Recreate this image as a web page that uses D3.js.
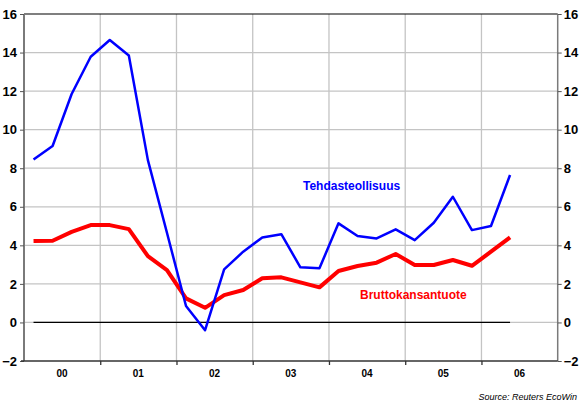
<!DOCTYPE html>
<html>
<head>
<meta charset="utf-8">
<script src="https://cdn.jsdelivr.net/npm/d3@7"></script>
<style>
  html, body { margin: 0; padding: 0; background: #fff; }
  svg { display: block; font-family: "Liberation Sans", Arial, sans-serif; }
</style>
</head>
<body>
<svg id="chart" width="579" height="405"></svg>
<script>
// ---- data ----
const yearLabels = ["00", "01", "02", "03", "04", "05", "06"];
const yTicks = [-2, 0, 2, 4, 6, 8, 10, 12, 14, 16];
// quarterly, 2000Q1 .. 2006Q2
const tehdasteollisuus = [8.45, 9.15, 11.85, 13.78, 14.65, 13.85, 8.42, 4.65, 0.85, -0.4,
  2.75, 3.67, 4.41, 4.58, 2.86, 2.81, 5.14, 4.48, 4.36, 4.83, 4.27, 5.17, 6.52, 4.79, 5.0, 7.65];
const bruttokansantuote = [4.22, 4.24, 4.7, 5.05, 5.05, 4.84, 3.44, 2.72, 1.25, 0.76,
  1.42, 1.68, 2.29, 2.34, 2.08, 1.82, 2.67, 2.93, 3.1, 3.55, 2.98, 2.98, 3.24, 2.94, 3.67, 4.41];
const seriesNames = ["Tehdasteollisuus", "Bruttokansantuote"];
const sourceText = "Source: Reuters EcoWin";

// ---- layout ----
const svg = d3.select("#chart");
const L = 24, R = 557.7, T = 14, B = 361;
const nQuarters = yearLabels.length * 4;
const x = d3.scaleLinear().domain([0, nQuarters]).range([L, R]);
const y = d3.scaleLinear().domain([-2, 16]).range([B, T]);

// grid
const g = svg.append("g");
g.selectAll(".hg").data(yTicks.filter(v => v > -2 && v < 16)).enter().append("line")
  .attr("x1", L).attr("x2", R).attr("y1", d => y(d)).attr("y2", d => y(d))
  .attr("stroke", "#c4c4c4").attr("stroke-width", 1.3);
const yearBounds = d3.range(1, yearLabels.length).map(i => i * 4);
g.selectAll(".vg").data(yearBounds).enter().append("line")
  .attr("x1", d => x(d)).attr("x2", d => x(d)).attr("y1", T).attr("y2", B)
  .attr("stroke", "#c4c4c4").attr("stroke-width", 1.3);

// zero line over the data range
const n = tehdasteollisuus.length;
svg.append("line")
  .attr("x1", x(0.5)).attr("x2", x(n - 0.5)).attr("y1", y(0)).attr("y2", y(0))
  .attr("stroke", "#000").attr("stroke-width", 1.2);

// frame
svg.append("line").attr("x1", L).attr("x2", R).attr("y1", T).attr("y2", T)
  .attr("stroke", "#000").attr("stroke-width", 1.2);
svg.append("line").attr("x1", L).attr("x2", L).attr("y1", T).attr("y2", B)
  .attr("stroke", "#7a7a7a").attr("stroke-width", 2);
svg.append("line").attr("x1", R).attr("x2", R).attr("y1", T).attr("y2", B)
  .attr("stroke", "#7a7a7a").attr("stroke-width", 1.5);

// left axis
const leftAxis = d3.axisLeft(y).tickValues(yTicks).tickSize(4).tickPadding(3).tickFormat(d3.format("d"));
const la = svg.append("g").attr("transform", `translate(${L},0)`).call(leftAxis);
la.select(".domain").remove();
la.selectAll("line").attr("stroke", "#555");
la.selectAll("text").attr("font-size", 13).attr("font-weight", "bold").attr("fill", "#000")
  .attr("font-family", "Liberation Sans, Arial, sans-serif");

// right axis
const rightAxis = d3.axisRight(y).tickValues(yTicks).tickSize(4).tickPadding(2).tickFormat(d3.format("d"));
const ra = svg.append("g").attr("transform", `translate(${R},0)`).call(rightAxis);
ra.select(".domain").remove();
ra.selectAll("line").attr("stroke", "#555");
ra.selectAll("text").attr("font-size", 13).attr("font-weight", "bold").attr("fill", "#000")
  .attr("font-family", "Liberation Sans, Arial, sans-serif");

// bottom axis
svg.append("line").attr("x1", L - 3).attr("x2", R).attr("y1", B).attr("y2", B)
  .attr("stroke", "#333").attr("stroke-width", 1.5);
const bottomAxis = d3.axisBottom(x).tickValues(yearBounds).tickSize(4).tickFormat("");
const ba = svg.append("g").attr("transform", `translate(0,${B})`).call(bottomAxis);
ba.select(".domain").remove();
ba.selectAll("line").attr("stroke", "#333").attr("stroke-width", 1.3);
svg.selectAll(".ylab").data(yearLabels).enter().append("text")
  .attr("x", (d, i) => x(i * 4 + 2)).attr("y", 377)
  .attr("text-anchor", "middle").attr("font-size", 10).attr("font-weight", "bold")
  .text(d => d);

// series
const line = d3.line().x((d, i) => x(i + 0.5)).y(d => y(d));
svg.append("path").datum(bruttokansantuote).attr("d", line)
  .attr("fill", "none").attr("stroke", "#ff0000").attr("stroke-width", 4).attr("stroke-linejoin", "round");
svg.append("path").datum(tehdasteollisuus).attr("d", line)
  .attr("fill", "none").attr("stroke", "#0000ff").attr("stroke-width", 2.5).attr("stroke-linejoin", "round");

// labels
svg.append("text").attr("x", 303).attr("y", 190).attr("font-size", 12).attr("font-weight", "bold")
  .attr("fill", "#0000ff").text(seriesNames[0]);
svg.append("text").attr("x", 360).attr("y", 299).attr("font-size", 12).attr("font-weight", "bold")
  .attr("fill", "#ff0000").text(seriesNames[1]);

// source
svg.append("text").attr("x", 577).attr("y", 400).attr("text-anchor", "end")
  .attr("font-size", 9).attr("font-style", "italic").attr("fill", "#000").text(sourceText);
</script>
</body>
</html>
